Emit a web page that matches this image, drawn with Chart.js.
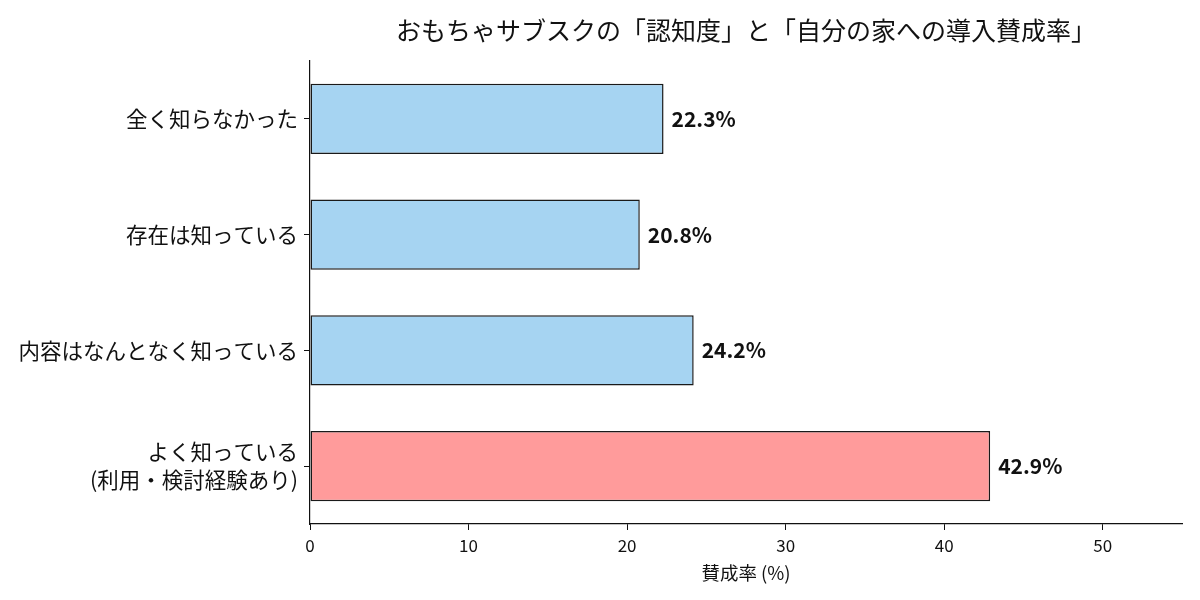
<!DOCTYPE html>
<html>
<head>
<meta charset="utf-8">
<script src="https://cdn.jsdelivr.net/npm/chart.js@4"></script>
<style>
  body { margin: 0; background: #fff; }
  canvas { display: block; }
</style>
</head>
<body>
<canvas id="chart" width="1200" height="600"></canvas>
<script>
// データ
const categories = ['全く知らなかった', '存在は知っている', '内容はなんとなく知っている', ['よく知っている', '(利用・検討経験あり)']];
const approvalRates = [22.3, 20.8, 24.2, 42.9];
const barColors = ['#a6d4f2', '#a6d4f2', '#a6d4f2', '#ff9b9b'];
const xTicks = [0, 10, 20, 30, 40, 50];

const FONT = "'Noto Sans CJK JP', 'Noto Sans', sans-serif";

// バー右側に数値ラベル
const valueLabels = {
    id: 'valueLabels',
    afterDatasetsDraw(chart) {
        const ctx = chart.ctx;
        const meta = chart.getDatasetMeta(0);
        ctx.save();
        ctx.font = `bold 21px ${FONT}`;
        ctx.fillStyle = '#111';
        ctx.textAlign = 'left';
        ctx.textBaseline = 'middle';
        meta.data.forEach((bar, i) => {
            ctx.fillText(approvalRates[i].toFixed(1) + '%', bar.x + 8, bar.y);
        });
        ctx.restore();
    }
};

new Chart(document.getElementById('chart'), {
    type: 'bar',
    data: {
        labels: categories,
        datasets: [{
            data: approvalRates,
            backgroundColor: barColors,
            borderColor: '#1a1a1a',
            borderWidth: 1.5,
            borderSkipped: false,
            barPercentage: 0.605,
            categoryPercentage: 1
        }]
    },
    options: {
        indexAxis: 'y',
        responsive: false,
        animation: false,
        layout: { padding: { left: 0, right: 18, top: 0, bottom: 0 } },
        plugins: {
            legend: { display: false },
            tooltip: { enabled: false },
            title: {
                display: true,
                text: 'おもちゃサブスクの「認知度」と「自分の家への導入賛成率」',
                color: '#111',
                fullSize: false,
                font: { family: FONT, size: 25, weight: 'normal', lineHeight: 1.2 },
                padding: { top: 15, bottom: 16 }
            }
        },
        scales: {
            x: {
                min: 0,
                max: 55,
                afterBuildTicks: s => { s.ticks = xTicks.map(v => ({ value: v })); },
                afterFit: s => { s.height = 76; },
                grid: { drawOnChartArea: false, drawTicks: true, tickLength: 6, color: '#111' },
                border: { display: true, color: '#111', width: 1.2 },
                ticks: { color: '#111', padding: 5, font: { family: FONT, size: 17 } },
                title: {
                    display: true,
                    text: '賛成率 (%)',
                    color: '#111',
                    font: { family: FONT, size: 18.5 },
                    padding: { top: 16, bottom: 16 }
                }
            },
            y: {
                afterFit: s => { s.width = 310; },
                grid: { offset: false, drawOnChartArea: false, drawTicks: true, tickLength: 6, color: '#111' },
                border: { display: true, color: '#111', width: 1.2 },
                ticks: { color: '#111', padding: 6, font: { family: FONT, size: 21.5, lineHeight: 1.3 } }
            }
        }
    },
    plugins: [valueLabels]
});
</script>
</body>
</html>
